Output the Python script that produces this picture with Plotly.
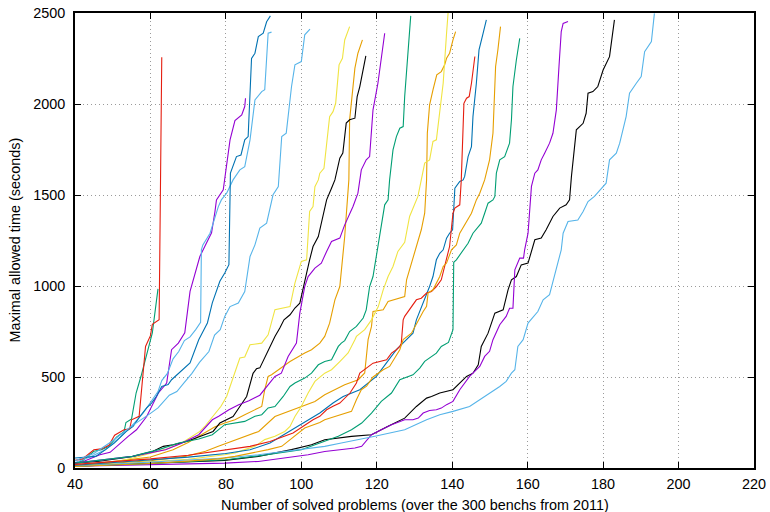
import plotly.graph_objects as go

# ---- data ----
purple1_x = [40,42.2,46.6,49.3,54.1,56.3,59,60.3,62.1,64.3,65.2,65.6,67.4,69.1,70.5,73.1,74.4,76.2,77.1,77.5,79.3,80.2,81.1,82.4,84.2,85,85.2]
purple1_y = [27,36,73,86,174,210,283,338,412,467,577,650,686,743,970,1162,1217,1292,1409,1473,1528,1656,1803,1909,1940,1986,2032]

green1_x = [40,42,45,47,49,51,53,53.5,55,56.2,57.5,58.7,60.5,62]
green1_y = [27,40,92,100,119,170,200,250,270,412,504,595,742,984]

lblue1_x = [40,44,48,52,55,58,60,62,63,64.5,66,67.5,69,70.5,72,73.3,73.5,73.9,75.8,78,78.8,80.2,81.9,83.7,85,86.4,87.7,89.5,90.3,91.2,92.1]
lblue1_y = [30,60,100,170,230,300,360,420,480,520,600,640,700,720,760,800,1199,1226,1290,1436,1473,1510,1583,1638,1656,1803,2022,2068,2078,2389,2395]

orange1_x = [40,50,60,66,70,74,77,79.7,82.4,85,87.7,89.5,90.3,91.2,92.1,93.9,95.2,97,100.9,102.7,104.9,106.2,107.5,108.9,110.2,111.5,112.6,112.8,114.2,115,116.2]
orange1_y = [15,35,60,100,140,190,225,247,265,293,320,338,430,503,512,540,558,585,632,650,686,723,796,924,997,1272,1583,1913,2197,2279,2352]

yellow1_x = [40,49.2,55.4,59.8,64.3,68.3,70.5,73.1,74.4,76.6,78.7,80.2,81.9,83.7,85,86.4,89.5,91.2,93,95.2,97,98.3,100,101.4,102.2,103.1,103.6,104.5,104.9,106,106.7,107.5,108.4,109.1,110,110.9,111.5,112.8]
yellow1_y = [10,27,55,79,104,137,165,201,228,283,339,393,494,604,610,677,686,732,870,879,887,1016,1135,1144,1410,1437,1546,1583,1620,1647,1766,1930,1958,2004,2215,2251,2352,2425]

blue1_x = [40,45.5,48.1,50.4,53.6,55.4,57.2,59,60.3,61.6,63,64.7,65.6,69.1,70.5,72.8,75.1,76.4,78.4,79.7,80.8,81.2,82.8,84,85,85.9,86.8,87.7,88.6,89.9,90.8,91.8]
blue1_y = [55,64,101,137,201,229,283,330,357,394,448,458,485,550,577,705,797,907,1026,1071,1117,1620,1711,1720,1803,1821,2251,2279,2370,2389,2452,2484]

red1_x = [40,42,45,47,49,50.5,53,54.5,55,57,58.7,60,60.5,62,62.3,63]
red1_y = [42,50,100,105,125,180,210,215,265,284,668,727,790,811,815,2257]

black1_x = [40,46.4,55.4,60.7,63.4,66,69.6,73.1,76.6,78.4,80.2,81.9,83.7,85.5,87.2,88.1,89,91.2,93,94.3,95.4,97,98.3,99.6,100.5,101.4,102.2,103.1,104.5,105.8,106.7,108,108.9,110.2,111,111.9,112.8,114.2,114.8,115.5,116.2,117.1]
black1_y = [27,37,64,92,119,128,146,174,201,247,265,283,338,393,520,545,550,650,723,769,814,842,879,906,997,1071,1144,1217,1272,1400,1473,1537,1583,1702,1730,1895,1913,1922,2041,2096,2178,2264]

purple2_x = [40,55.2,64,68.4,72.8,76.4,78.1,80.8,83.4,86.1,89,91.7,93,94.7,96.5,98.7,99.6,100.9,101.8,103.6,105.3,106.7,108,110.2,111.5,113.7,115,115.9,117.2,118.1,119,120.3,122.1]
purple2_y = [27,64,100,137,183,265,284,320,348,370,400,467,503,521,613,686,851,997,1052,1098,1125,1190,1245,1263,1336,1437,1510,1638,1693,1711,1968,2114,2389]

green2_x = [40,55.2,62.2,67.5,72.8,76.4,79.7,82.4,85,87.7,89.5,91.2,93,95.2,97,98.3,100.9,102.7,104.5,106.2,108,109.8,110.6,111.5,112.8,114.6,116.4,117.2,118.1,119,119.9,120.8,122.1,123,123.4,124.3,125.2,126.1,127,127.4,128.3,129]
green2_y = [27,64,101,137,159,183,238,247,256,284,293,330,338,393,448,467,494,521,567,585,595,668,686,700,750,778,824,869,997,1052,1162,1290,1446,1473,1583,1748,1821,1867,1876,2041,2315,2484]

lblue2_x = [40,45,50,55,60,62,65,67,69,71,73,75.5,77,78.5,79.7,81.1,83.3,85,86.4,87.7,89,90.8,92.5,93.9,94.8,96,97.4,98.3,100,100.9,102.3]
lblue2_y = [40,80,150,230,300,330,400,420,470,520,580,640,730,760,833,887,906,970,1162,1226,1318,1345,1501,1546,1821,1840,2096,2215,2233,2380,2411]

orange2_x = [40,50,60,69.3,74.6,78,81.6,85,88.7,93,100,103.6,106.2,108.9,111.5,115.1,116.8,117.7,118.6,119,121.7,123,127.4,127.9,129.2,130.5,131.8,132.7,133.2,133.4,134,134.9,135.9,137.1,138,138.5,139.3,140.2,140.9]
orange2_y = [12,25,40,64,92,119,146,174,201,283,338,366,402,430,457,485,522,705,778,860,869,915,942,1034,1126,1217,1309,1400,1583,1840,1995,2077,2160,2178,2215,2251,2279,2352,2398]

yellow2_x = [40,50,60,70,79.7,82.4,85,87.7,90.3,93,95.6,97,98.3,100,101.8,103.6,106.2,108,110.2,112.4,114.2,114.6,116.8,118.6,120.4,121.7,123,124.3,125.6,127.4,128.7,130.9,131.8,132.7,134,134.9,135.8,137.6,138.5,138.9]
yellow2_y = [8,20,32,48,73,82,101,119,156,174,201,228,283,338,412,476,521,540,585,632,705,723,760,814,887,979,1052,1107,1190,1240,1382,1492,1583,1675,1693,1794,1803,2114,2389,2500]

blue2_x = [40,50,60,70,80,86.4,91.7,100.5,104.9,108.4,111.1,115.5,117.7,119.9,125.2,126.1,127.9,129.6,130.5,131.4,133.2,134,134.9,135.8,136.7,137.6,138.5,139.3,140.1,140.7,142,142.9,143.3,144.2,145.1,145.5,146.4,147.1,148.2,149.05]
blue2_y = [15,30,45,60,80,100,137,247,302,357,393,430,467,503,650,668,705,741,814,860,952,997,1052,1144,1180,1199,1263,1290,1309,1537,1574,1583,1602,1711,1766,1931,2114,2297,2389,2462]

red2_x = [40,50,60,70,80,86.4,91.7,95.2,97.8,100.5,103.1,104.9,106.7,108.4,110.2,112.9,114.6,115.5,119,122.6,123.9,125.2,126.1,126.5,127,127.4,129.6,130.5,131.8,133.2,134.5,135.8,137.1,139.3,140.2,140.7,142,142.4,143.1,143.8,144.5,145.1,146]
red2_y = [20,35,50,70,100,119,146,174,192,229,265,284,320,339,357,412,467,522,576,595,631,650,668,686,814,833,897,924,933,961,970,997,1034,1217,1400,1428,1446,1583,2004,2032,2041,2114,2261]

black2_x = [40,79.7,88.6,97.4,102.7,106.2,113.3,118.6,123,127.4,130.5,133.2,134.5,136.7,140.2,143.8,145.5,146.9,147.7,149.5,151.3,153.5,154.8,155.7,157,158.3,160.1,161.9,163.6,164.9,166.7,168.5,170.2,171.1,171.6,172.9,174.7,175.5,176,177.3,178.6,180,181.7,183]
black2_y = [10,42,64,101,128,155,174,183,229,274,338,384,393,412,430,503,521,567,668,741,851,869,979,1034,1052,1116,1126,1254,1263,1309,1382,1428,1446,1473,1601,1858,1894,1949,2059,2068,2096,2187,2260,2462]

purple3_x = [40,79.7,88.6,95.6,100,101.8,106.2,110.6,114.2,116,118.6,121.2,123.9,127.4,129.6,131,132.3,134,135.8,137.1,138.5,140.2,140.7,142,144.6,147.3,148.6,149.9,150.8,152.6,154.3,155.2,156.1,156.6,157.9,158.9,159.2,160.1,161,161.9,162.7,163.6,164.5,165.8,166.7,167.6,168.3,168.9,169.4,170.7]
purple3_y = [10,27,36,55,64,73,91,101,110,119,183,210,238,265,265,274,302,316,320,329,348,366,384,430,503,558,613,641,705,787,833,878,878,1089,1153,1153,1199,1290,1547,1620,1638,1693,1730,1785,1839,1968,2206,2398,2443,2453]

green3_x = [40,60,80,90,100,103.6,109.8,113.3,116,118.6,121.2,123.9,126.1,129.6,131.4,132.7,134,135.8,137.1,139,140.2,140.4,141.1,142.9,144.2,145.5,147.7,148.6,149.5,150.8,151.3,151.7,152.6,153.9,154.8,155.2,155.7,156.1,157,157.9]
green3_y = [10,25,45,70,100,128,174,210,247,302,366,412,485,512,549,586,604,631,668,690,760,1130,1144,1199,1235,1290,1345,1400,1455,1473,1492,1620,1693,1711,1766,1785,1913,2096,2242,2361]

lblue3_x = [40,79.7,88.6,97.4,106.2,110.6,115.1,119.5,127.4,129.6,133.2,136.7,140.2,144.6,147.3,149.9,152.6,154.3,155.7,156.6,157.4,158.8,160.1,162.7,164.1,165.8,168,168.9,169.4,170.7,173.3,174.7,176,177.7,180.8,181.7,183.5,184.4,186.1,187,188.8,190.1,191,192.8,193.6]
lblue3_y = [10,55,73,95,119,137,155,174,210,232,265,293,311,338,375,412,448,476,521,540,668,705,796,860,924,952,1126,1199,1290,1354,1363,1409,1464,1492,1565,1693,1730,1785,1931,2059,2114,2151,2288,2343,2498]

orange3_x = [40,50,60,70,78,82.4,86.8,91.2,94.8,97,100.9,104.9,106.2,108.9,111.5,113.3,114.6,115.9,117.3,119,121.7,123.4,126.1,127,129.2,130.1,132.3,133.2,133.6,134.9,136.7,137.6,138.5,139.8,141.1,142,145.1,146.4,147.3,148.6,149,149.9,150.8,151.5,152.1,152.8]
orange3_y = [8,15,25,38,50,64,82,101,119,156,220,250,265,283,302,311,375,430,450,500,540,558,650,705,741,777,860,888,961,979,1052,1107,1126,1199,1226,1290,1400,1473,1510,1583,1620,1693,1839,2206,2297,2425]

x_ticks = [40, 60, 80, 100, 120, 140, 160, 180, 200, 220]
y_ticks = [0, 500, 1000, 1500, 2000, 2500]
x_title = "Number of solved problems (over the 300 benchs from 2011)"
y_title = "Maximal allowed time (seconds)"

PURPLE, GREEN, LBLUE, ORANGE = "#9400d3", "#009e73", "#56b4e9", "#e69f00"
YELLOW, BLUE, RED, BLACK = "#f0e442", "#0072b2", "#e51e10", "#000000"

series = [
    (purple1_x, purple1_y, PURPLE), (green1_x, green1_y, GREEN),
    (lblue1_x, lblue1_y, LBLUE), (orange1_x, orange1_y, ORANGE),
    (yellow1_x, yellow1_y, YELLOW), (blue1_x, blue1_y, BLUE),
    (red1_x, red1_y, RED), (black1_x, black1_y, BLACK),
    (purple2_x, purple2_y, PURPLE), (green2_x, green2_y, GREEN),
    (lblue2_x, lblue2_y, LBLUE), (orange2_x, orange2_y, ORANGE),
    (yellow2_x, yellow2_y, YELLOW), (blue2_x, blue2_y, BLUE),
    (red2_x, red2_y, RED), (black2_x, black2_y, BLACK),
    (purple3_x, purple3_y, PURPLE), (green3_x, green3_y, GREEN),
    (lblue3_x, lblue3_y, LBLUE), (orange3_x, orange3_y, ORANGE),
]

fig = go.Figure()
for xs, ys, col in series:
    fig.add_trace(go.Scatter(x=xs, y=ys, mode="lines",
                             line=dict(color=col, width=1.1),
                             showlegend=False, hoverinfo="skip"))

font = dict(family="Liberation Sans, Arial, sans-serif", size=14.4, color="#000")
axis_common = dict(showline=True, linecolor="#000", linewidth=1.8, mirror="ticks",
                   ticks="inside", ticklen=6, tickwidth=1, tickcolor="#000",
                   showgrid=True, gridcolor="#9a9a9a", gridwidth=1, griddash="1px,3px",
                   zeroline=False, tickfont=font, automargin=False)

fig.update_layout(
    width=770, height=512,
    margin=dict(l=75, r=16, t=13, b=44),
    paper_bgcolor="white", plot_bgcolor="white",
    font=font,
    xaxis=dict(range=[40, 220], tickvals=x_ticks, ticktext=[str(v) for v in x_ticks],
               ticklabelstandoff=2, **axis_common),
    yaxis=dict(range=[0, 2500], tickvals=y_ticks, ticktext=[str(v) for v in y_ticks],
               ticklabelstandoff=5, **axis_common),
    annotations=[
        dict(text=x_title, xref="paper", yref="paper", x=0.5, y=-0.0813,
             xanchor="center", yanchor="middle", showarrow=False, font=font),
        dict(text=y_title, xref="paper", yref="paper", x=-0.0898, y=0.5,
             xanchor="center", yanchor="middle", textangle=-90, showarrow=False, font=font),
    ],
)

fig.write_html("out.html")
